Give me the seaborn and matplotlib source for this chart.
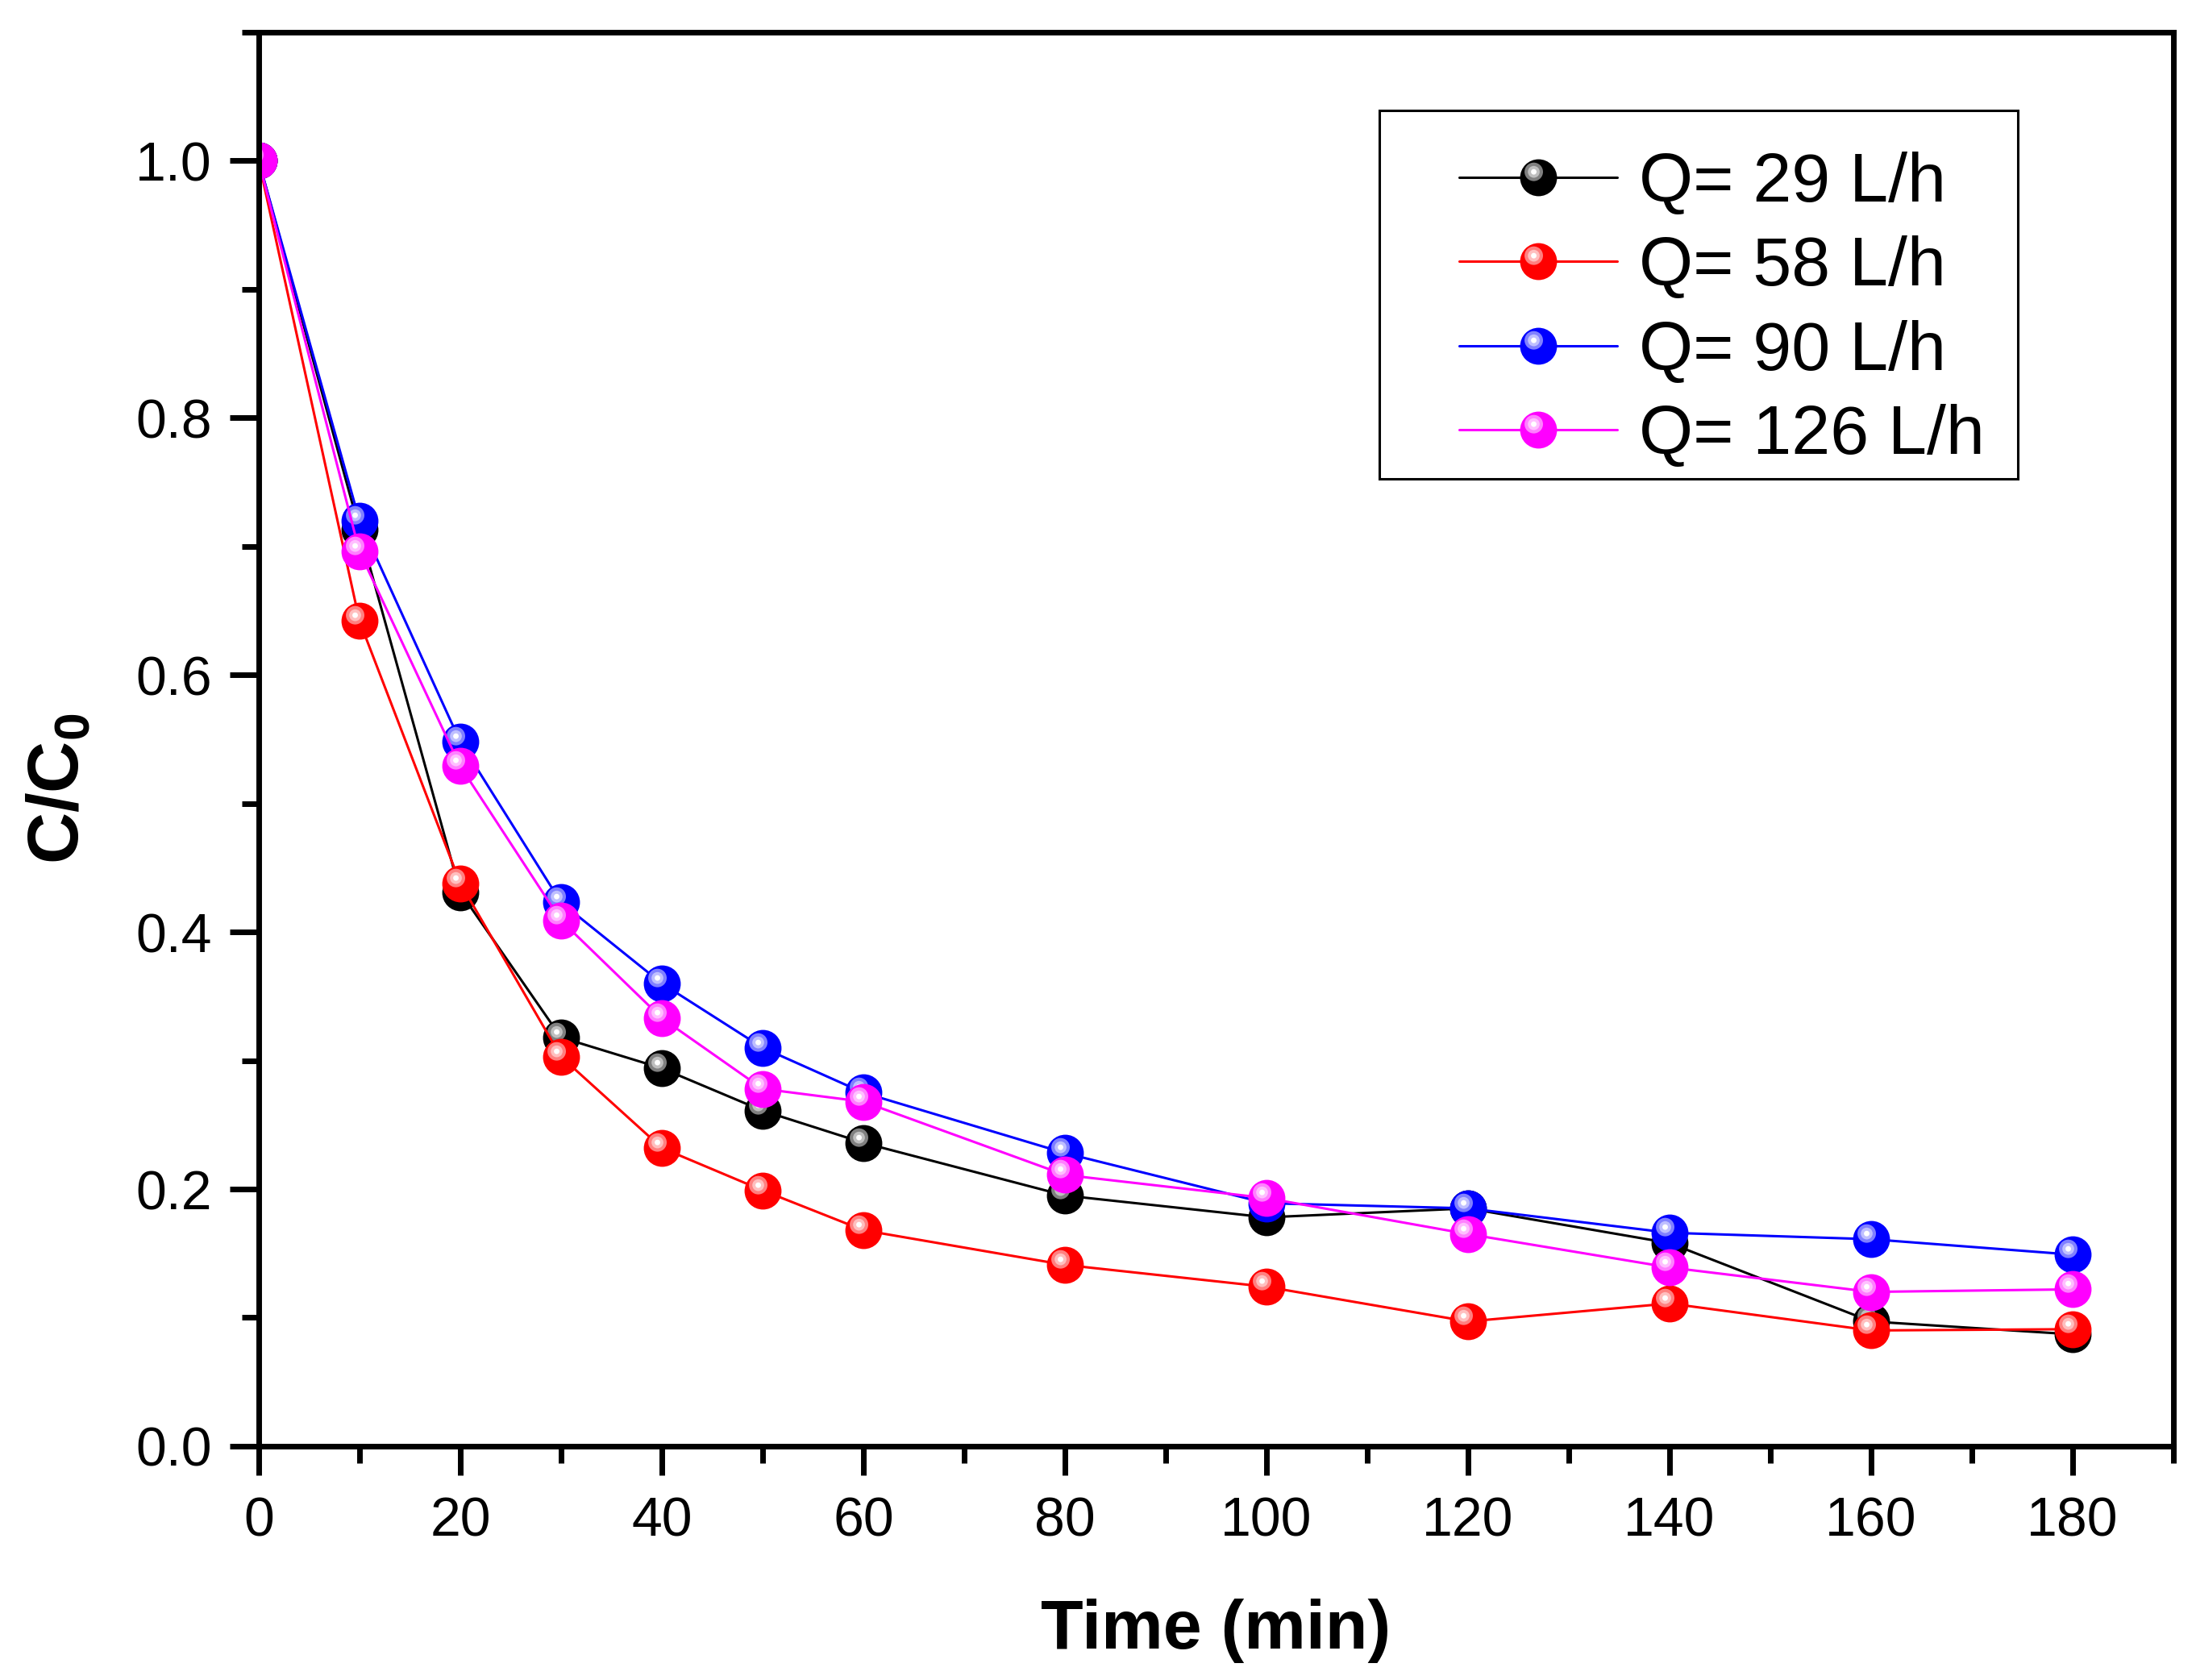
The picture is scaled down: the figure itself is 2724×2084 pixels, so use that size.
import numpy as np
import pandas as pd
import matplotlib
matplotlib.use("Agg")
import matplotlib.pyplot as plt
import seaborn as sns
from matplotlib.path import Path
from matplotlib.patches import Rectangle
from matplotlib.ticker import MultipleLocator
from matplotlib.legend_handler import HandlerTuple
from matplotlib.colors import to_rgb

# data
TIME = [0, 10, 20, 30, 40, 50, 60, 80, 100, 120, 140, 160, 180]
Q29 = [1.0, 0.713, 0.431, 0.318, 0.294, 0.261, 0.236, 0.195, 0.178, 0.185, 0.158, 0.097, 0.087]
Q58 = [1.0, 0.642, 0.438, 0.303, 0.232, 0.199, 0.168, 0.141, 0.124, 0.097, 0.111, 0.090, 0.091]
Q90 = [1.0, 0.720, 0.548, 0.423, 0.360, 0.310, 0.275, 0.228, 0.189, 0.185, 0.166, 0.161, 0.149]
Q126 = [1.0, 0.696, 0.529, 0.409, 0.333, 0.278, 0.268, 0.211, 0.193, 0.165, 0.139, 0.120, 0.122]
LABELS = ["Q= 29 L/h", "Q= 58 L/h", "Q= 90 L/h", "Q= 126 L/h"]
COLORS = ["#000000", "#ff0000", "#0000ff", "#ff00ff"]

df = pd.DataFrame({
    "time": TIME * 4,
    "cc0": Q29 + Q58 + Q90 + Q126,
    "flow": sum([[lab] * len(TIME) for lab in LABELS], []),
})

sns.set_style("ticks")
plt.rcParams["font.family"] = ["Liberation Sans", "DejaVu Sans"]
plt.rcParams["mathtext.fontset"] = "custom"
plt.rcParams["mathtext.rm"] = "Liberation Sans"
plt.rcParams["mathtext.bf"] = "Liberation Sans:bold"
for key in ["text.color", "axes.labelcolor", "xtick.color", "ytick.color", "axes.edgecolor"]:
    plt.rcParams[key] = "black"


def shine(cx, cy, r):
    # small circle off the marker centre, anchored at radius 1 so it scales like the ball
    c = Path.circle((cx, cy), r)
    verts = np.vstack([[[1.0, 0.0]], c.vertices])
    codes = np.concatenate([[Path.MOVETO], c.codes])
    return Path(verts, codes)


def mix(c, amt):
    r, g, b = to_rgb(c)
    return (r + (1 - r) * amt, g + (1 - g) * amt, b + (1 - b) * amt)


# (marker path, amount of white) for the highlight layers of each ball
SHINE = [(shine(-0.26, 0.32, 0.50), 0.5),
         (shine(-0.26, 0.32, 0.32), 0.75),
         (shine(-0.26, 0.32, 0.15), 1.0)]
MS = 16.5

fig = plt.figure(figsize=(13.62, 10.42), dpi=200)
ax = fig.add_axes([0.1178, 0.1392, 0.9897 - 0.1178, 0.9808 - 0.1392])

handles = []
for lab, col in zip(LABELS, COLORS):
    sub = df[df["flow"] == lab]
    sns.lineplot(data=sub, x="time", y="cc0", color=col, lw=1.1, marker="o",
                 markersize=MS, markeredgewidth=0, errorbar=None, sort=False, ax=ax)
    parts = [ax.lines[-1]]
    for path, amt in SHINE:
        sns.lineplot(data=sub, x="time", y="cc0", color=mix(col, amt), linestyle="",
                     marker=path, markersize=MS, markeredgewidth=0, errorbar=None, ax=ax)
        parts.append(ax.lines[-1])
    handles.append(tuple(parts))

ax.set_xlim(0, 190)
ax.set_ylim(0, 1.1)
ax.xaxis.set_major_locator(MultipleLocator(20))
ax.xaxis.set_minor_locator(MultipleLocator(10))
ax.yaxis.set_major_locator(MultipleLocator(0.2))
ax.yaxis.set_minor_locator(MultipleLocator(0.1))
ax.tick_params(which="major", direction="out", length=13, width=2.5, labelsize=24.5)
ax.tick_params(which="minor", direction="out", length=7.5, width=2.5)
ax.tick_params(axis="x", which="major", pad=9)
ax.tick_params(axis="y", which="major", pad=8)
for sp in ax.spines.values():
    sp.set_linewidth(2.5)

ax.set_xlabel("Time (min)", fontsize=31, fontweight="bold")
ax.set_ylabel(r"C/C$_{\mathbf{0}}$", fontsize=32, fontweight="bold")
ax.xaxis.set_label_coords(0.5, -0.108)
ax.yaxis.set_label_coords(-0.086, 0.465)

ax.legend(handles, LABELS, handler_map={tuple: HandlerTuple(ndivide=1, pad=0)},
          loc="center left", bbox_to_anchor=(0.6645, 0.8155),
          bbox_transform=fig.transFigure, fontsize=31, frameon=False,
          borderpad=0, labelspacing=0.285, handlelength=2.28, handletextpad=0.31,
          borderaxespad=0)
fig.patches.append(Rectangle((0.6283, 0.7150), 0.9189 - 0.6283, 0.9345 - 0.7150,
                             transform=fig.transFigure, fill=False,
                             edgecolor="black", linewidth=1.1))

fig.savefig("out.png", dpi=200, facecolor="white")
